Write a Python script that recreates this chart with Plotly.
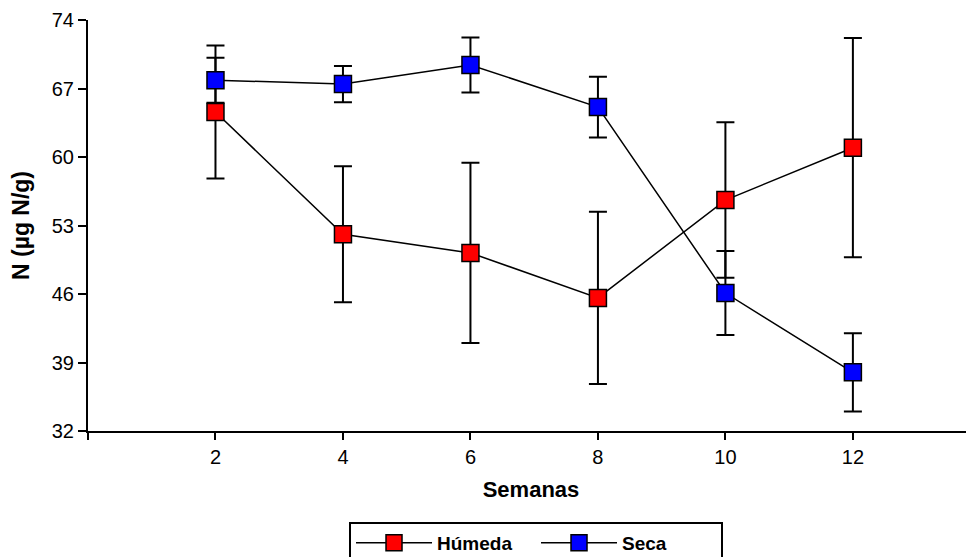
import plotly.graph_objects as go

weeks = [2, 4, 6, 8, 10, 12]
humeda = [64.6, 52.1, 50.2, 45.6, 55.6, 60.95]
humeda_err = [6.8, 6.95, 9.2, 8.8, 7.95, 11.2]
seca = [67.85, 67.45, 69.4, 65.1, 46.1, 38.0]
seca_err = [2.3, 1.85, 2.8, 3.1, 4.3, 4.0]

x_ticks = [0, 2, 4, 6, 8, 10, 12]
x_ticktext = ["", "2", "4", "6", "8", "10", "12"]
y_ticks = [32, 39, 46, 53, 60, 67, 74]

FONT = "Liberation Sans, Arial, sans-serif"

fig = go.Figure()
for name, vals, errs, color in [("Húmeda", humeda, humeda_err, "#FF0000"),
                                ("Seca", seca, seca_err, "#0000FF")]:
    fig.add_trace(go.Scatter(
        x=weeks, y=vals, name=name, mode="lines+markers",
        line=dict(color="black", width=1.5),
        marker=dict(symbol="square", size=17, color=color,
                    line=dict(color="black", width=1.5)),
        error_y=dict(type="data", array=errs, visible=True,
                     color="black", thickness=2, width=9),
    ))

# page body has a default 8px margin, so the figure is sized to fill the rest
fig.update_layout(
    width=966, height=549,
    margin=dict(l=80, r=0, t=12, b=126, autoexpand=False),
    plot_bgcolor="white", paper_bgcolor="white",
    font=dict(family=FONT, color="black", size=20),
    xaxis=dict(range=[0, 13.9], tickvals=x_ticks, ticktext=x_ticktext,
               automargin=False, ticklabeloverflow="allow",
               showgrid=False, zeroline=False, showline=True,
               linecolor="black", linewidth=2, ticks="outside",
               ticklen=7, tickwidth=2, tickcolor="black",
               tickfont=dict(size=20),
               title=dict(text="<b>Semanas</b>", font=dict(size=22), standoff=15)),
    yaxis=dict(range=[32, 74], tickvals=y_ticks,
               automargin=False, ticklabeloverflow="allow",
               showgrid=False, zeroline=False, showline=True,
               linecolor="black", linewidth=2, ticks="outside",
               ticklen=8, tickwidth=2, tickcolor="black",
               tickfont=dict(size=20),
               title=dict(text="<b>N (µg N/g)</b>", font=dict(size=23), standoff=18)),
    legend=dict(orientation="h", x=0.2946, xanchor="left", y=-0.2214, yanchor="top",
                bordercolor="black", borderwidth=2, bgcolor="white",
                font=dict(size=19, family=FONT, weight="bold"), itemwidth=76,
                entrywidth=94, entrywidthmode="pixels"),
    showlegend=True,
)

fig.write_html("out.html")
